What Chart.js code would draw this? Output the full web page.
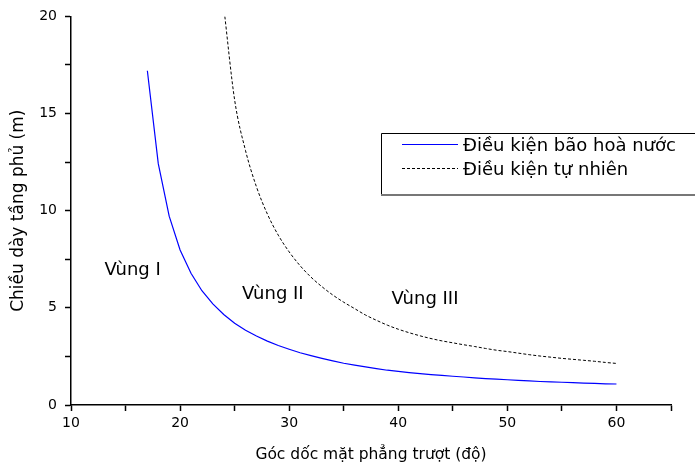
<!DOCTYPE html>
<html>
<head>
<meta charset="utf-8">
<script src="https://cdn.jsdelivr.net/npm/chart.js@4"></script>
<style>
    html, body { margin: 0; padding: 0; background: #fff; }
    #wrap { width: 695px; height: 469px; }
</style>
</head>
<body>
<div id="wrap"><canvas id="graphSlope" width="695" height="469"></canvas></div>
<script>
// goc doc (do) va chieu day tang phu (m), doc tu hinh
const anglesSat = [17, 18, 19, 20, 21, 22, 23, 24, 25, 26, 27, 28, 29, 30, 31, 32, 33, 34, 35, 36, 37, 38,
    39, 40, 41, 42, 43, 44, 45, 46, 47, 48, 49, 50, 51, 52, 53, 54, 55, 56, 57, 58, 59, 60];
const thickSat = [17.2, 12.42, 9.72, 7.98, 6.78, 5.88, 5.20, 4.66, 4.21, 3.85, 3.55, 3.29, 3.06, 2.87, 2.69,
    2.54, 2.40, 2.27, 2.15, 2.05, 1.96, 1.87, 1.79, 1.73, 1.67, 1.61, 1.56, 1.52, 1.48, 1.44, 1.40, 1.36,
    1.33, 1.30, 1.27, 1.24, 1.21, 1.19, 1.17, 1.15, 1.13, 1.11, 1.09, 1.08];

const anglesNat = [24, 25, 26, 27, 28, 29, 30, 31, 32, 33, 34, 35, 36, 37, 38, 39, 40, 41, 42, 43, 44, 45,
    46, 47, 48, 49, 50, 51, 52, 53, 54, 55, 56, 57, 58, 59, 60];
const thickNat = [20.5, 15.7, 13.09, 11.23, 9.83, 8.74, 7.88, 7.17, 6.58, 6.09, 5.66, 5.29, 4.96, 4.63, 4.36,
    4.11, 3.90, 3.72, 3.56, 3.42, 3.30, 3.20, 3.10, 3.01, 2.91, 2.82, 2.75, 2.67, 2.59, 2.52, 2.46, 2.40,
    2.35, 2.30, 2.25, 2.19, 2.14];

const seriesNames = ["Điều kiện bão hoà nước", "Điều kiện tự nhiên"];
const regionNames = ["Vùng I", "Vùng II", "Vùng III"];
const xTickLabels = [10, 20, 30, 40, 50, 60];
const yTickLabels = [0, 5, 10, 15, 20];

const FONT = "'DejaVu Sans', sans-serif";


function toPoints(xs, ys){
    let pts = [];
    for(let i = 0; i < xs.length; i++){
        pts.push({x: xs[i], y: ys[i]});
    };
    return pts;
};


// chu thich + ten vung ve tay tren canvas
const extraText = {
    id: 'extraText',
    afterDatasetsDraw(chart){
        const ctx = chart.ctx;
        const xs = chart.scales.x;
        const ys = chart.scales.y;

        ctx.save();
        ctx.fillStyle = '#000';
        ctx.font = '18px ' + FONT;
        ctx.textAlign = 'center';
        ctx.textBaseline = 'middle';
        const spots = [[15.65, 6.95], [28.5, 5.7], [42.45, 5.45]];
        for(let i = 0; i < regionNames.length; i++){
            ctx.fillText(regionNames[i], xs.getPixelForValue(spots[i][0]), ys.getPixelForValue(spots[i][1]));
        };

        // khung chu thich
        ctx.lineWidth = 1;
        ctx.strokeStyle = '#000';
        ctx.beginPath();
        ctx.moveTo(720, 133.5);
        ctx.lineTo(381.5, 133.5);
        ctx.lineTo(381.5, 195);
        ctx.stroke();
        ctx.strokeStyle = '#777';
        ctx.lineWidth = 2;
        ctx.beginPath();
        ctx.moveTo(381, 195);
        ctx.lineTo(720, 195);
        ctx.stroke();

        const rows = [144, 168];
        chart.data.datasets.forEach((ds, i) => {
            ctx.strokeStyle = ds.borderColor;
            ctx.lineWidth = ds.borderWidth;
            ctx.setLineDash(ds.borderDash || []);
            ctx.beginPath();
            ctx.moveTo(402, rows[i] + 0.5);
            ctx.lineTo(458, rows[i] + 0.5);
            ctx.stroke();
            ctx.setLineDash([]);
            ctx.fillStyle = '#000';
            ctx.font = '18px ' + FONT;
            ctx.textAlign = 'left';
            ctx.textBaseline = 'middle';
            ctx.fillText(ds.label, 463, rows[i] + 2);
        });
        ctx.restore();
    }
};


function buildChart(){

    const canvas = document.getElementById('graphSlope').getContext('2d');
    let graphSlope = new Chart(canvas, {

        type: 'line',

        data: {
            datasets: [{
                label: seriesNames[0],
                data: toPoints(anglesSat, thickSat),
                borderColor: '#0000ff',
                borderWidth: 1.2,
                pointRadius: 0,
                tension: 0
            },{
                label: seriesNames[1],
                data: toPoints(anglesNat, thickNat),
                borderColor: '#000000',
                borderWidth: 1,
                borderDash: [3, 2],
                pointRadius: 0,
                cubicInterpolationMode: 'monotone'
            }]
        },
        options:{
            responsive: false,
            animation: false,
            layout:{
                padding:{
                    left: 0,
                    right: 24,
                    top: 16,
                    bottom: 0
                }
            },
            scales:{
                x:{
                    type: 'linear',
                    min: 10,
                    max: 65,
                    afterFit: (s) => { s.height = 64; },
                    ticks:{
                        stepSize: 5,
                        autoSkip: false,
                        maxRotation: 0,
                        padding: 4,
                        color: '#000',
                        font: { family: FONT, size: 14 },
                        callback: (v) => xTickLabels.includes(v) ? v : ''
                    },
                    grid:{
                        drawOnChartArea: false,
                        tickLength: 6,
                        color: '#000',
                        tickWidth: 1.5
                    },
                    border:{ color: '#000', width: 1.5 },
                    title:{
                        display: true,
                        text: 'Góc dốc mặt phẳng trượt (độ)',
                        color: '#000',
                        font: { family: FONT, size: 15.5 },
                        padding: { top: 4, bottom: 5 }
                    }
                },
                y:{
                    min: 0,
                    max: 20,
                    afterFit: (s) => { s.width = 71; },
                    ticks:{
                        stepSize: 2.5,
                        autoSkip: false,
                        padding: 8,
                        color: '#000',
                        font: { family: FONT, size: 14 },
                        callback: (v) => yTickLabels.includes(v) ? v : ''
                    },
                    grid:{
                        drawOnChartArea: false,
                        tickLength: 6,
                        color: '#000',
                        tickWidth: 1.5
                    },
                    border:{ color: '#000', width: 1.5 },
                    title:{
                        display: true,
                        text: 'Chiều dày tầng phủ (m)',
                        color: '#000',
                        font: { family: FONT, size: 17 },
                        padding: { top: 8, bottom: 0 }
                    }
                }
            },
            plugins:{
                legend:{ display: false },
                tooltip:{ enabled: false }
            }
        },
        plugins: [extraText]
    });
};

window.addEventListener("load", buildChart);
</script>
</body>
</html>
